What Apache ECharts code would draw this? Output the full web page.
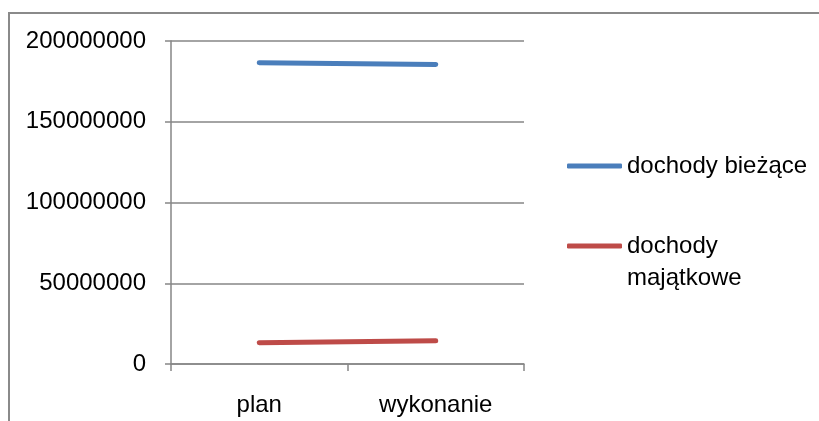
<!DOCTYPE html>
<html><head><meta charset="utf-8">
<script src="https://cdn.jsdelivr.net/npm/echarts@6/dist/echarts.min.js"></script>
<style>html,body{margin:0;padding:0;background:#fff}#c{width:819px;height:421px}</style>
</head><body><div id="c"></div>
<script>
const categories = ['plan', 'wykonanie'];
const seriesNames = ['dochody bieżące', 'dochody majątkowe'];
const biezace = [186600000, 185400000];
const majatkowe = [13200000, 14400000];
const yTicks = [0, 50000000, 100000000, 150000000, 200000000];

const FONT = 'Liberation Sans';
const FS = 24;
const chart = echarts.init(document.getElementById('c'));
chart.setOption({
  animation: false,
  backgroundColor: '#fff',
  textStyle: { fontFamily: FONT },
  graphic: [{
    type: 'rect', silent: true,
    shape: { x: 9, y: 13, width: 900, height: 600 },
    style: { fill: 'none', stroke: '#8a8a8a', lineWidth: 2 }
  }],
  grid: { left: 171, right: 295, top: 41, height: 323 },
  xAxis: {
    type: 'category', data: categories, boundaryGap: true,
    axisLine: { lineStyle: { color: '#868686', width: 1.5 } },
    axisTick: { show: true, length: 7, lineStyle: { color: '#868686', width: 1.5 } },
    axisLabel: { color: '#000', fontSize: FS, fontFamily: FONT, margin: 29 },
    splitLine: { show: false }
  },
  yAxis: {
    type: 'value', min: yTicks[0], max: yTicks[yTicks.length - 1],
    interval: yTicks[1] - yTicks[0],
    axisLine: { show: true, lineStyle: { color: '#868686', width: 1.5 } },
    axisTick: { show: true, length: 6, lineStyle: { color: '#868686', width: 1.5 } },
    axisLabel: { color: '#000', fontSize: FS, fontFamily: FONT, margin: 25,
      formatter: function (v) { return String(v); } },
    splitLine: { show: true, lineStyle: { color: '#868686', width: 1.5 } }
  },
  legend: [{
    data: [seriesNames[0]], orient: 'vertical', left: 567, top: 151, padding: 0,
    itemWidth: 55, itemHeight: 5, icon: 'roundRect',
    textStyle: { color: '#000', fontSize: FS, fontFamily: FONT, lineHeight: 30 }
  }, {
    data: [seriesNames[1]], orient: 'vertical', left: 567, top: 198, padding: 0,
    itemWidth: 55, itemHeight: 5, icon: 'roundRect',
    formatter: function () { return ' \ndochody\nmajątkowe'; },
    textStyle: { color: '#000', fontSize: FS, fontFamily: FONT, lineHeight: 32 }
  }],
  series: [{
    name: seriesNames[0], type: 'line', data: biezace,
    symbol: 'none', lineStyle: { color: '#4A7EBB', width: 5, cap: 'round' },
    itemStyle: { color: '#4A7EBB' }
  }, {
    name: seriesNames[1], type: 'line', data: majatkowe,
    symbol: 'none', lineStyle: { color: '#BE4B48', width: 5, cap: 'round' },
    itemStyle: { color: '#BE4B48' }
  }]
});
</script></body></html>
